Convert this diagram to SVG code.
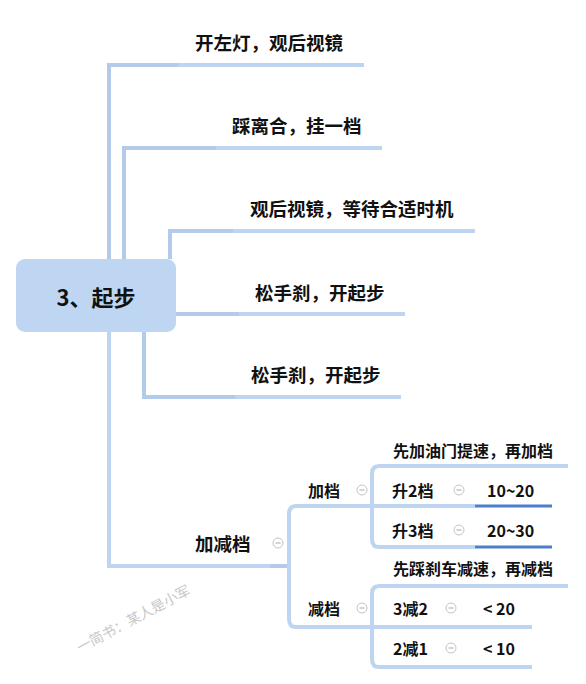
<svg xmlns="http://www.w3.org/2000/svg" width="586" height="684" viewBox="0 0 586 684">
<defs>
<style>
.ln{fill:none;stroke:#BDD5EF;stroke-width:4;stroke-linecap:butt}
.ld{fill:none;stroke:#B2CBEA;stroke-width:4}
.ul{stroke:#4A7FCB;stroke-width:3}
.t{font-family:"Noto Sans CJK SC","Liberation Sans",sans-serif;font-weight:bold;fill:#111;dominant-baseline:central}
.t18{font-size:18.5px}
.t16{font-size:16px}
</style>
<g id="minus"><circle cx="0" cy="0" r="5" fill="#fff" stroke="#C4C4C4" stroke-width="1"/><line x1="-2.5" y1="0" x2="2.5" y2="0" stroke="#A8A8A8" stroke-width="1"/></g>
</defs>
<rect width="586" height="684" fill="#fff"/>
<g id="connectors">
  <path class="ln" d="M109 566 V65 H364"/>
  <path class="ld" d="M109 300 V65 H178"/>
  <path class="ln" d="M124 259 V148 H382"/>
  <path class="ld" d="M124 259 V148 H216"/>
  <path class="ln" d="M170 259 V231 H475"/>
  <path class="ld" d="M170 259 V231 H233"/>
  <path class="ln" d="M176 314 H405"/>
  <path class="ld" d="M176 314 H239"/>
  <path class="ln" d="M144 332 V397 H401"/>
  <path class="ld" d="M144 332 V397 H235"/>
  <path class="ln" d="M107 566 H289"/>
  <path class="ld" d="M270 566 H289"/>
  <path class="ln" d="M296 506 Q289 506 289 514 V619 Q289 627 296 627"/>
  <path class="ln" d="M295 506 H372"/>
  <path class="ln" d="M379 466 Q372 466 372 474 V539 Q372 547 379 547"/>
  <path class="ln" d="M378 466 H568"/>
  <path class="ln" d="M372 506 H475"/>
  <path class="ln" d="M378 547 H475"/>
  <line class="ul" x1="475" y1="506" x2="552" y2="506"/>
  <line class="ul" x1="475" y1="547" x2="552" y2="547"/>
  <path class="ln" d="M295 627 H372"/>
  <path class="ln" d="M379 586 Q372 586 372 594 V659 Q372 667 379 667"/>
  <path class="ln" d="M378 586 H568"/>
  <path class="ln" d="M372 627 H532"/>
  <path class="ln" d="M378 667 H532"/>
</g>
<g id="root">
  <rect x="16" y="259" width="160" height="73" rx="9" fill="#BED6F1"/>
  <text class="t" x="96" y="296" font-size="22" text-anchor="middle">3、起步</text>
</g>
<g id="n1"><text class="t t18" x="195" y="42">开左灯，观后视镜</text></g>
<g id="n2"><text class="t t18" x="232" y="125">踩离合，挂一档</text></g>
<g id="n3"><text class="t t18" x="250" y="208">观后视镜，等待合适时机</text></g>
<g id="n4"><text class="t t18" x="255" y="292">松手刹，开起步</text></g>
<g id="n5"><text class="t t18" x="251" y="374">松手刹，开起步</text></g>
<g id="n6"><text class="t" x="195" y="543" font-size="18.5">加减档</text><use href="#minus" x="278" y="543"/></g>
<g id="n7"><text class="t t16" x="308" y="490">加档</text><use href="#minus" x="362" y="490"/></g>
<g id="n8"><text class="t t16" x="393" y="450">先加油门提速，再加档</text></g>
<g id="n9"><text class="t t16" x="392" y="490">升2档</text><use href="#minus" x="459" y="490"/><text class="t t16" x="487" y="490">10~20</text></g>
<g id="n10"><text class="t t16" x="392" y="530">升3档</text><use href="#minus" x="459" y="530"/><text class="t t16" x="487" y="530">20~30</text></g>
<g id="n11"><text class="t t16" x="308" y="608">减档</text><use href="#minus" x="362" y="608"/></g>
<g id="n12"><text class="t t16" x="393" y="568">先踩刹车减速，再减档</text></g>
<g id="n13"><text class="t t16" x="393" y="608">3减2</text><use href="#minus" x="451" y="608"/><text class="t t16" x="483" y="608">&lt; 20</text></g>
<g id="n14"><text class="t t16" x="393" y="648">2减1</text><use href="#minus" x="451" y="648"/><text class="t t16" x="483" y="648">&lt; 10</text></g>
<g id="watermark"><text x="133" y="618" font-family="'Noto Sans CJK SC',sans-serif" font-size="14" fill="#C8C8C8" text-anchor="middle" dominant-baseline="central" transform="rotate(-28 133 618)">一简书：某人是小军</text></g>
</svg>
